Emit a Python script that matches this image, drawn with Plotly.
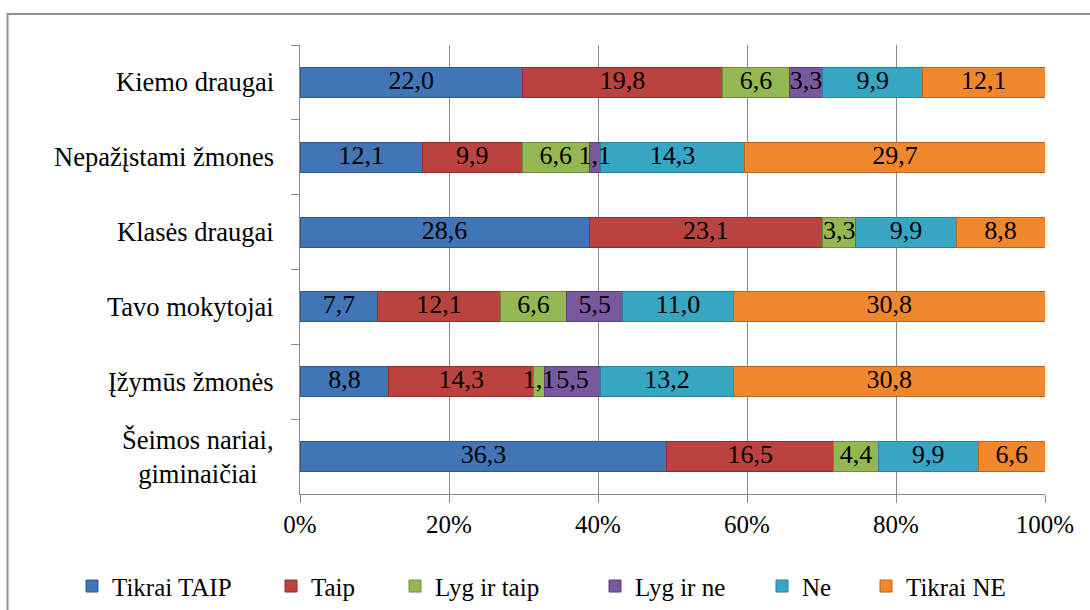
import plotly.graph_objects as go

# Respondent groups, listed top to bottom
categories = [
    "Kiemo draugai",
    "Nepažįstami žmones",
    "Klasės draugai",
    "Tavo mokytojai",
    "Įžymūs žmonės",
    "Šeimos nariai,<br>giminaičiai",
]

series_names = ["Tikrai TAIP", "Taip", "Lyg ir taip", "Lyg ir ne", "Ne", "Tikrai NE"]

tikrai_taip = [22.0, 12.1, 28.6, 7.7, 8.8, 36.3]
taip = [19.8, 9.9, 23.1, 12.1, 14.3, 16.5]
lyg_ir_taip = [6.6, 6.6, 3.3, 6.6, 1.1, 4.4]
lyg_ir_ne = [3.3, 1.1, 0.0, 5.5, 5.5, 0.0]
ne = [9.9, 14.3, 9.9, 11.0, 13.2, 9.9]
tikrai_ne = [12.1, 29.7, 8.8, 30.8, 30.8, 6.6]

x_ticks = [0, 20, 40, 60, 80, 100]
x_tick_labels = ["0%", "20%", "40%", "60%", "80%", "100%"]

series_values = [tikrai_taip, taip, lyg_ir_taip, lyg_ir_ne, ne, tikrai_ne]
colors = ["#4175B6", "#BA4340", "#94B752", "#79599D", "#37A6C3", "#EF882D"]
edge_colors = ["#2F5A8E", "#8E2F2D", "#6F8C3A", "#5A4178", "#26839C", "#B9651D"]

FONT = "Liberation Serif"
FS_CAT = 26.5
FS_VAL = 26
FS_TICK = 25
FS_LEG = 25

# Plot-area geometry in pixels
W, H = 1090, 610
L, R, T, B = 300, 45, 44.5, 115.5
pw, ph = W - L - R, H - T - B


def px_to_paper_x(px):
    return (px - L) / pw


def px_to_paper_y(py):
    return (H - B - py) / ph


def fmt(v):
    return "" if v == 0 else f"{v:.1f}".replace(".", ",")


legend_left_px = [72, 271, 395, 595, 762, 866]

fig = go.Figure()
for i, (name, vals) in enumerate(zip(series_names, series_values)):
    lg = "legend" if i == 0 else f"legend{i + 1}"
    fig.add_trace(
        go.Bar(
            y=categories,
            x=vals,
            name=name,
            orientation="h",
            marker=dict(color=colors[i], line=dict(color=edge_colors[i], width=1)),
            hoverinfo="skip",
            legend=lg,
        )
    )

# Value labels drawn above all bars, centred in each (row-normalised) segment
totals = [sum(row) for row in zip(*series_values)]
running = [0.0] * len(categories)
for vals in series_values:
    mids = []
    for j, v in enumerate(vals):
        mids.append((running[j] + v / 2) / totals[j] * 100)
        running[j] += v
    fig.add_trace(
        go.Scatter(
            x=mids,
            y=categories,
            mode="text",
            text=[fmt(v) for v in vals],
            textposition="middle center",
            textfont=dict(family=FONT, size=FS_VAL, color="black"),
            showlegend=False,
            hoverinfo="skip",
            cliponaxis=False,
        )
    )

legend_layouts = {}
for i, lx in enumerate(legend_left_px):
    key = "legend" if i == 0 else f"legend{i + 1}"
    legend_layouts[key] = dict(
        x=px_to_paper_x(lx),
        xanchor="left",
        y=px_to_paper_y(587),
        yanchor="middle",
        orientation="h",
        font=dict(family=FONT, size=FS_LEG, color="black"),
        bgcolor="rgba(0,0,0,0)",
        borderwidth=0,
        itemclick=False,
        itemdoubleclick=False,
    )

# Category labels, centred line by line and right-aligned to the axis
annotations = [
    dict(
        x=px_to_paper_x(276),
        xref="paper",
        y=cat,
        yref="y",
        text=cat,
        showarrow=False,
        xanchor="right",
        yanchor="middle",
        align="center",
        font=dict(family=FONT, size=FS_CAT, color="black"),
    )
    for cat in categories
]

fig.update_layout(
    width=W,
    height=H,
    barmode="stack",
    barnorm="percent",
    bargap=0.6,
    plot_bgcolor="white",
    paper_bgcolor="white",
    margin=dict(l=L, r=R, t=T, b=B, autoexpand=False),
    showlegend=True,
    annotations=annotations,
    shapes=[
        dict(
            type="rect",
            xref="paper",
            yref="paper",
            x0=px_to_paper_x(7.5),
            x1=px_to_paper_x(1100),
            y0=px_to_paper_y(620),
            y1=px_to_paper_y(13.5),
            line=dict(color="#929292", width=2),
            fillcolor="rgba(0,0,0,0)",
            layer="below",
        )
    ],
    **legend_layouts,
)

fig.update_xaxes(
    range=[0, 100],
    tickvals=x_ticks,
    ticktext=x_tick_labels,
    showgrid=True,
    gridcolor="#8C8C8C",
    gridwidth=1,
    showline=True,
    linecolor="#8C8C8C",
    linewidth=1,
    ticks="outside",
    ticklen=8,
    tickcolor="#8C8C8C",
    tickfont=dict(family=FONT, size=FS_TICK, color="black"),
    zeroline=False,
    fixedrange=True,
)
fig.update_yaxes(
    autorange="reversed",
    showticklabels=False,
    showline=True,
    linecolor="#8C8C8C",
    linewidth=1,
    ticks="outside",
    tickson="boundaries",
    ticklen=8,
    tickcolor="#8C8C8C",
    showgrid=False,
    fixedrange=True,
)

fig.write_html("out.html", config={"displayModeBar": False})
